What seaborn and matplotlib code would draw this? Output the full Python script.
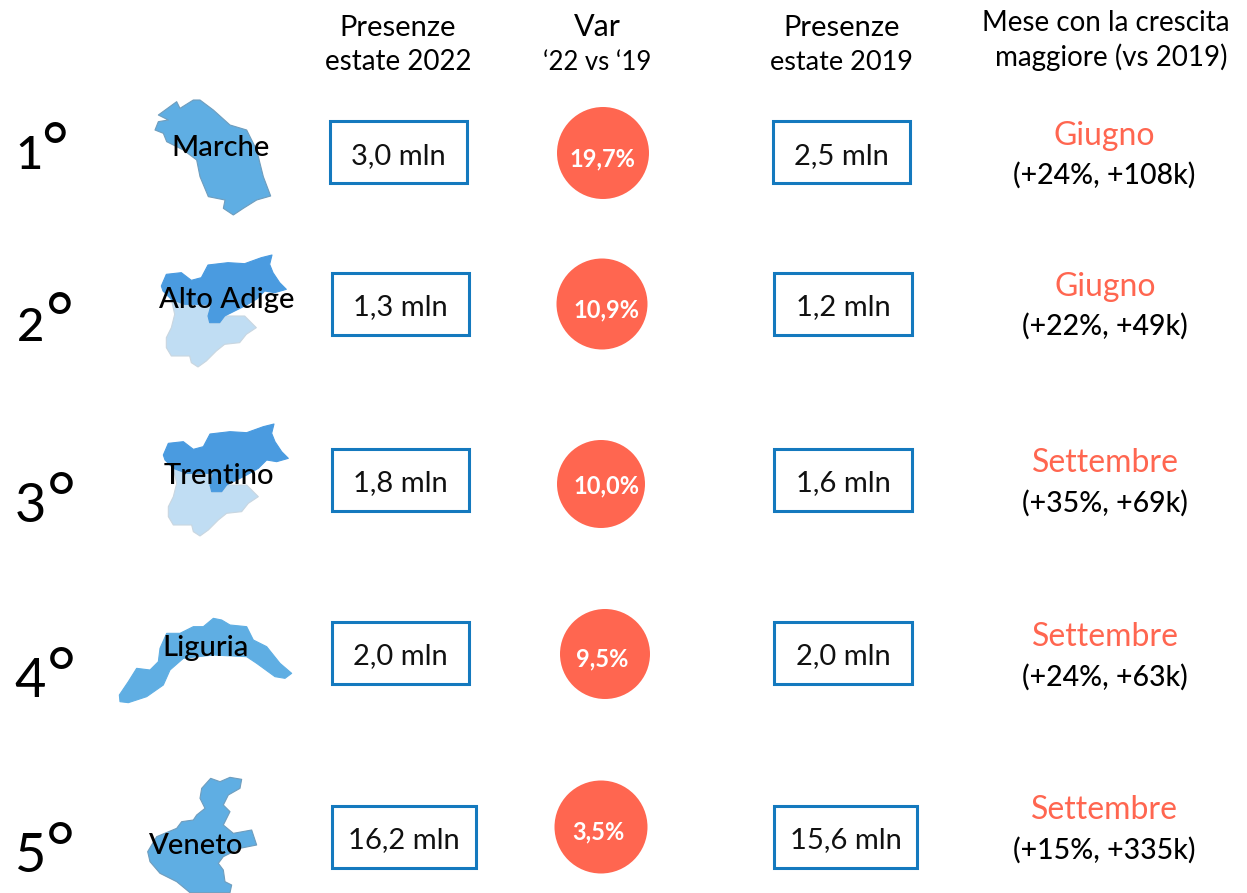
import numpy as np
import pandas as pd
import matplotlib.pyplot as plt
from matplotlib.patches import Rectangle, Polygon
import seaborn as sns

# Data
rank_digits = ['1', '2', '3', '4', '5']
regions = ['Marche', 'Alto Adige', 'Trentino', 'Liguria', 'Veneto']
presenze_2022 = [3.0, 1.3, 1.8, 2.0, 16.2]
presenze_2019 = [2.5, 1.2, 1.6, 2.0, 15.6]
var_pct = [19.7, 10.9, 10.0, 9.5, 3.5]
best_month = ['Giugno', 'Giugno', 'Settembre', 'Settembre', 'Settembre']
best_growth = ['(+24%, +108k)', '(+22%, +49k)', '(+35%, +69k)', '(+24%, +63k)', '(+15%, +335k)']

CORAL = '#FF6650'
BOX_BLUE = '#1479BE'
MAP_BLUE = '#5FAEE3'
MAP_DARK = '#4A9BE0'
MAP_LIGHT = '#C0DDF3'

sns.set_theme(style='white')
plt.rcParams['font.family'] = ['Lato', 'DejaVu Sans']

fig, ax = plt.subplots(figsize=(12.47, 8.93), dpi=100)
ax.set_position([0, 0, 1, 1])

# Map outlines, traced from a 3x zoom, so divided by 3 before the offset
marche = [(475,105),(530,65),(540,85),(580,60),(600,60),(640,90),(690,135),(740,150),(770,210),(790,290),
          (812,348),(770,360),(730,385),(700,405),(670,385),(675,360),(625,350),(600,290),(590,240),(550,210),
          (500,185),(490,160),(465,150),(475,125),(505,120)]
alto = [(490,135),(505,100),(550,95),(580,118),(610,110),(630,72),(690,65),(740,68),(790,50),(822,42),
        (815,70),(825,95),(845,125),(865,145),(830,155),(800,150),(775,175),(740,195),(680,225),(665,245),
        (635,245),(630,225),(640,190),(560,190),(520,175),(495,150)]
trento = [(520,175),(560,190),(640,190),(630,225),(635,245),(665,245),(680,225),(740,225),(775,260),(745,280),
          (725,305),(680,310),(655,330),(625,360),(600,378),(580,365),(575,345),(520,345),(505,320),(505,290),
          (520,260),(530,220)]
liguria = [(358,855),(385,815),(410,775),(450,780),(475,755),(480,715),(500,670),(540,670),(580,650),(610,650),
           (640,625),(665,630),(690,645),(740,650),(760,690),(800,710),(840,760),(875,790),(855,805),(825,800),
           (770,760),(740,740),(640,735),(550,745),(510,780),(490,825),(440,860),(385,878),(360,875)]
veneto = [(632,115),(660,125),(690,112),(725,118),(720,145),(685,165),(670,195),(690,215),(670,255),(700,280),
          (755,270),(770,315),(720,325),(670,350),(655,370),(670,390),(675,425),(695,435),(690,458),(570,458),
          (530,425),(480,400),(450,365),(443,335),(470,290),(530,265),(545,245),(580,240),(590,225),(615,205),
          (600,175),(605,145)]


def draw_shape(pts, dx, dy, color, edge='#6f9dbd'):
    xy = np.array(pts) / 3 + [dx, dy]
    ax.add_patch(Polygon(xy, closed=True, facecolor=color, edgecolor=edge, linewidth=0.8, joinstyle='round'))


# Layout per row
digit_x = [29, 31, 30, 30, 30]
degree_x = [54, 60, 61, 61, 60]
digit_size = [34, 34, 39, 39, 39]
digit_weight = ['medium', 'medium', 'normal', 'normal', 'normal']
degree_size = [46, 48, 50, 50, 50]
rank_base = [169, 341, 522, 697, 872]
name_x = [221, 227, 219, 206, 196]
name_base = [156, 308, 484, 656, 854]
box_top = [121, 273, 449, 622, 806]
box_left_22 = [330, 332, 332, 332, 332]
box_w_22 = [137, 137, 137, 137, 144]
box_left_19 = [773, 774, 774, 774, 774]
box_w_19 = [137, 138, 138, 138, 143]
value_base = [164, 315, 491, 664, 848]
circle_x = [603, 602, 601, 605, 601]
circle_y = [153, 304, 484, 654, 827]
circle_d = [92, 91, 88, 90, 93]
pct_x = [602, 606, 606, 602, 598]
pct_base = [166, 317, 493, 666, 839]
month_x = [1104, 1105, 1105, 1105, 1104]
month_base = [145, 296, 472, 646, 819]
growth_base = [184, 335, 512, 686, 859]

circles = pd.DataFrame({'x': circle_x, 'y': circle_y, 'var': var_pct,
                        's': [(d * 0.72) ** 2 for d in circle_d]})
sns.scatterplot(data=circles, x='x', y='y', s=circles['s'], color=CORAL, linewidth=0, legend=False, ax=ax, zorder=3)
ax.set_xlim(0, 1247)
ax.set_ylim(893, 0)
ax.axis('off')

draw_shape(marche, 0, 80, MAP_BLUE)
draw_shape(trento, -2, 241, MAP_LIGHT, edge='#c9d6e0')
draw_shape(alto, -2, 241, MAP_DARK, edge=MAP_DARK)
draw_shape(trento, 0, 410, MAP_LIGHT, edge='#c9d6e0')
draw_shape(alto, 0, 410, MAP_DARK, edge=MAP_DARK)
draw_shape(liguria, 0, 410, MAP_BLUE, edge=MAP_BLUE)
draw_shape(veneto, 0, 740, MAP_BLUE)

# Headers
header = dict(ha='center', va='baseline', color='black')
ax.text(398, 36, 'Presenze', fontsize=21, **header)
ax.text(398, 70, 'estate 2022', fontsize=20, **header)
ax.text(597, 36, 'Var', fontsize=22, **header)
ax.text(597, 70, '‘22 vs ‘19', fontsize=18.5, **header)
ax.text(842, 36, 'Presenze', fontsize=21, **header)
ax.text(842, 70, 'estate 2019', fontsize=19.5, **header)
ax.text(1106, 31, 'Mese con la crescita', fontsize=20, **header)
ax.text(1111, 66, 'maggiore (vs 2019)', fontsize=20, **header)


def mln(v):
    return f'{v:.1f}'.replace('.', ',') + ' mln'


for i in range(len(regions)):
    ax.text(digit_x[i], rank_base[i], rank_digits[i], ha='center', va='baseline', fontsize=digit_size[i],
            fontweight=digit_weight[i], color='black')
    ax.text(degree_x[i], rank_base[i], '°', ha='center', va='baseline', fontsize=degree_size[i], color='black')
    ax.text(name_x[i], name_base[i], regions[i], ha='center', va='baseline', fontsize=21,
            fontweight='medium', color='black', zorder=5)

    for left, w, val in [(box_left_22[i], box_w_22[i], presenze_2022[i]), (box_left_19[i], box_w_19[i], presenze_2019[i])]:
        ax.add_patch(Rectangle((left, box_top[i]), w, 62, facecolor='white', edgecolor=BOX_BLUE, linewidth=2.2))
        ax.text(left + w / 2, value_base[i], mln(val), ha='center', va='baseline', fontsize=21, color='#111111')

    pct = f'{var_pct[i]:.1f}'.replace('.', ',') + '%'
    ax.text(pct_x[i], pct_base[i], pct, ha='center', va='baseline', fontsize=17,
            fontweight='bold', color='white', zorder=5)

    ax.text(month_x[i], month_base[i], best_month[i], ha='center', va='baseline', fontsize=23, color=CORAL)
    ax.text(month_x[i], growth_base[i], best_growth[i], ha='center', va='baseline', fontsize=20.5,
            fontweight='medium', color='black')

fig.savefig('out.png', dpi=100)
